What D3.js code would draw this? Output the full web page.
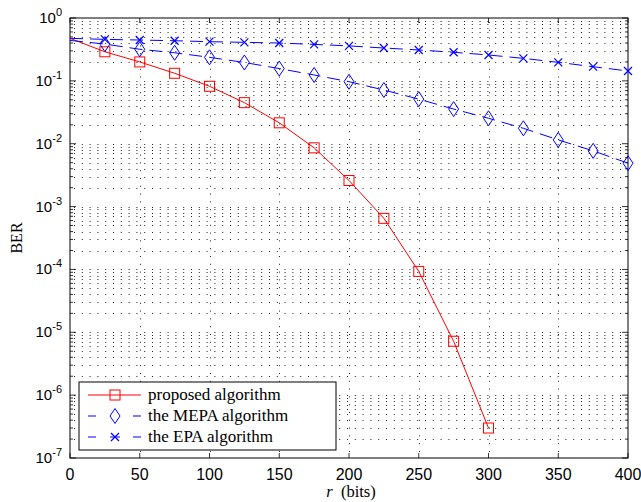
<!DOCTYPE html>
<html>
<head>
<meta charset="utf-8">
<script src="https://cdn.jsdelivr.net/npm/d3@7"></script>
<style>
  body { margin: 0; background: #fff; }
  svg { display: block; }
</style>
</head>
<body>
<svg id="chart" width="641" height="502"></svg>
<script>
// r values (bits) for each curve
const rProposed = [0, 25, 50, 75, 100, 125, 150, 175, 200, 225, 250, 275, 300];
const rBaseline = [0, 25, 50, 75, 100, 125, 150, 175, 200, 225, 250, 275, 300, 325, 350, 375, 400];

// BER values
const berProposed = [0.475, 0.29, 0.20, 0.132, 0.082, 0.045, 0.0215, 0.0086, 0.0026, 6.5e-4, 9.3e-5, 7.2e-6, 3.0e-7];
const berMEPA = [0.44, 0.385, 0.318, 0.28, 0.237, 0.196, 0.157, 0.124, 0.097, 0.0715, 0.0512, 0.0356, 0.0254, 0.0176, 0.0115, 0.0077, 0.0049];
const berEPA = [0.475, 0.457, 0.446, 0.435, 0.42, 0.41, 0.40, 0.38, 0.36, 0.333, 0.31, 0.285, 0.258, 0.228, 0.197, 0.168, 0.1435];

const xTicks = [0, 50, 100, 150, 200, 250, 300, 350, 400];
const yExponents = [0, -1, -2, -3, -4, -5, -6, -7];
const legendLabels = ["proposed algorithm", "the MEPA algorithm", "the EPA algorithm"];

const margin = { left: 70, top: 18, right: 13, bottom: 44 };
const W = 641, H = 502;
const iw = W - margin.left - margin.right;
const ih = H - margin.top - margin.bottom;

const svg = d3.select("#chart");
const g = svg.append("g").attr("transform", `translate(${margin.left},${margin.top})`);

const x = d3.scaleLinear().domain([0, 400]).range([0, iw]);
const y = d3.scaleLog().domain([1e-7, 1]).range([ih, 0]);

// all log ticks (major + minor)
const yAll = [];
for (let e = -7; e < 0; e++) for (let m = 1; m < 10; m++) yAll.push(m * Math.pow(10, e));
yAll.push(1);
const yMinor = yAll.filter(v => Math.abs(Math.log10(v) - Math.round(Math.log10(v))) > 1e-9);
const yMajor = yExponents.map(e => Math.pow(10, e));

// dotted grid
const grid = g.append("g").attr("stroke", "#222").attr("stroke-width", 1).attr("stroke-dasharray", "1,6.8");
grid.selectAll("line.h").data(yAll.filter(v => v > 1e-7 && v < 1)).join("line")
  .attr("x1", 4).attr("x2", iw).attr("y1", d => Math.round(y(d)) + 0.5).attr("y2", d => Math.round(y(d)) + 0.5);
grid.selectAll("line.v").data(xTicks.filter(v => v > 0 && v < 400)).join("line")
  .attr("x1", d => Math.round(x(d)) + 0.5).attr("x2", d => Math.round(x(d)) + 0.5).attr("y1", 4).attr("y2", ih);

// ticks (inside, on all four sides)
const ticks = g.append("g").attr("stroke", "#000").attr("stroke-width", 0.8);
xTicks.forEach(v => {
  ticks.append("line").attr("x1", x(v)).attr("x2", x(v)).attr("y1", ih).attr("y2", ih - 5);
  ticks.append("line").attr("x1", x(v)).attr("x2", x(v)).attr("y1", 0).attr("y2", 5);
});
yMajor.forEach(v => {
  ticks.append("line").attr("x1", 0).attr("x2", 6).attr("y1", y(v)).attr("y2", y(v));
  ticks.append("line").attr("x1", iw).attr("x2", iw - 6).attr("y1", y(v)).attr("y2", y(v));
});
yMinor.forEach(v => {
  ticks.append("line").attr("x1", 0).attr("x2", 3).attr("y1", y(v)).attr("y2", y(v));
  ticks.append("line").attr("x1", iw).attr("x2", iw - 3).attr("y1", y(v)).attr("y2", y(v));
});

// box
g.append("rect").attr("width", iw).attr("height", ih)
  .attr("fill", "none").attr("stroke", "#000").attr("stroke-width", 1);

// x tick labels
g.append("g").selectAll("text").data(xTicks).join("text")
  .attr("x", d => x(d)).attr("y", ih + 22)
  .attr("text-anchor", "middle")
  .attr("font-family", "Liberation Sans, Arial, sans-serif").attr("font-size", 16)
  .text(d => d);

// y tick labels 10^e
const yl = g.append("g").selectAll("text").data(yExponents).join("text")
  .attr("x", -8).attr("y", d => y(Math.pow(10, d)) + 5)
  .attr("text-anchor", "end")
  .attr("font-family", "Liberation Sans, Arial, sans-serif").attr("font-size", 15);
yl.append("tspan").text("10");
yl.append("tspan").attr("dy", -7).attr("font-size", 11).text(d => d);

// axis titles
svg.append("text")
  .attr("transform", `translate(22,${margin.top + ih / 2}) rotate(-90)`)
  .attr("text-anchor", "middle")
  .attr("font-family", "Liberation Serif, Times New Roman, serif").attr("font-size", 16)
  .text("BER");
const xt = svg.append("text")
  .attr("x", 351).attr("y", 497)
  .attr("text-anchor", "middle")
  .attr("font-family", "Liberation Serif, Times New Roman, serif").attr("font-size", 16.5);
xt.append("tspan").attr("font-style", "italic").text("r");
xt.append("tspan").text("\u00a0\u00a0(bits)");

// curves
const line = d3.line().x(d => x(d[0])).y(d => y(d[1]));
const series = [
  { pts: d3.zip(rProposed, berProposed), color: "#ff0000", dash: null, marker: "square" },
  { pts: d3.zip(rBaseline, berMEPA), color: "#0000ff", dash: "13,7", marker: "diamond" },
  { pts: d3.zip(rBaseline, berEPA), color: "#0000ff", dash: "13,7", marker: "cross" }
];

function drawMarker(sel, type, color) {
  if (type === "square") {
    sel.append("rect").attr("x", -5).attr("y", -5).attr("width", 10).attr("height", 10)
      .attr("fill", "none").attr("stroke", color).attr("stroke-width", 1);
  } else if (type === "diamond") {
    sel.append("path").attr("d", "M0,-7.5L5,0L0,7.5L-5,0Z")
      .attr("fill", "none").attr("stroke", color).attr("stroke-width", 1);
  } else {
    sel.append("path").attr("d", "M-4,-4L4,4M-4,4L4,-4")
      .attr("fill", "none").attr("stroke", color).attr("stroke-width", 1.2);
  }
}

series.forEach(s => {
  g.append("path").datum(s.pts).attr("d", line)
    .attr("fill", "none").attr("stroke", s.color).attr("stroke-width", 1)
    .attr("stroke-dasharray", s.dash);
  g.append("g").selectAll("g").data(s.pts.slice(1)).join("g")
    .attr("transform", d => `translate(${x(d[0])},${y(d[1])})`)
    .each(function () { drawMarker(d3.select(this), s.marker, s.color); });
});

// legend
const lg = svg.append("g").attr("transform", "translate(79,382)");
lg.append("rect").attr("width", 257).attr("height", 68)
  .attr("fill", "#fff").attr("stroke", "#000").attr("stroke-width", 1);
const legendSegs = [
  [[9, 62]],
  [[9, 17], [54, 62]],
  [[9, 17], [31, 41], [54, 62]]
];
series.forEach((s, i) => {
  const row = lg.append("g").attr("transform", `translate(0,${13 + i * 21})`);
  legendSegs[i].forEach(([a, b]) => {
    row.append("line").attr("x1", a).attr("x2", b).attr("y1", 0).attr("y2", 0)
      .attr("stroke", s.color).attr("stroke-width", 1);
  });
  drawMarker(row.append("g").attr("transform", "translate(36,0)"), s.marker, s.color);
  row.append("text").attr("x", 69).attr("y", 5)
    .attr("font-family", "Liberation Serif, Times New Roman, serif").attr("font-size", 17)
    .text(legendLabels[i]);
});
</script>
</body>
</html>
